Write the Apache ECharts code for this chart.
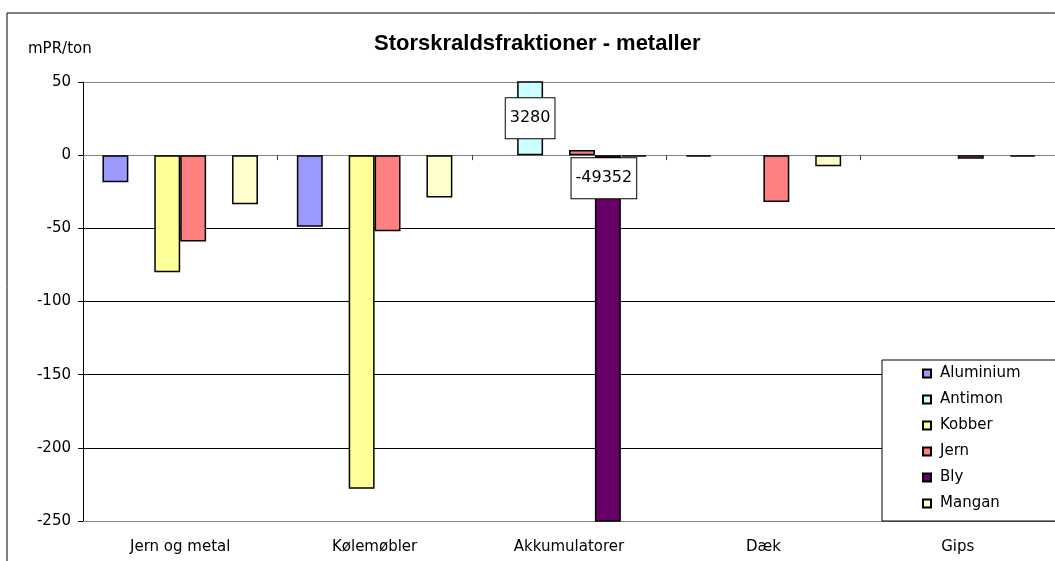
<!DOCTYPE html>
<html>
<head>
    <meta charset="utf-8">
    <title>Storskraldsfraktioner - metaller</title>
    <script src="https://cdn.jsdelivr.net/npm/echarts@6/dist/echarts.min.js"></script>
</head>
<body style="margin:0;">
    <div id="main" style="width: 1055px;height: 561px;"></div>
    <script type="text/javascript">
        // data
        var categories = ['Jern og metal', 'Kølemøbler', 'Akkumulatorer', 'Dæk', 'Gips'];
        var aluminium = [-18.5, -49, '-', -1, '-'];
        var antimon = ['-', '-', 3280, '-', '-'];
        var kobber = [-80, -228, '-', '-', '-'];
        var jern = [-59, -52, 3.5, -32, -2.5];
        var bly = ['-', '-', -49352, '-', '-'];
        var mangan = [-33.5, -29, -1, -7.5, -1];
        var yTicks = [-250, -200, -150, -100, -50, 0, 50];

        var font = 'DejaVu Sans';
        var myChart = echarts.init(document.getElementById('main'));

        function bar(name, data, color, label) {
            return {
                name: name,
                type: 'bar',
                xAxisIndex: 0,
                data: data,
                barGap: '0%',
                barCategoryGap: '20%',
                itemStyle: { color: color, borderColor: '#000', borderWidth: 1.5 },
                label: label || { show: false }
            };
        }

        var boxLabel = {
            show: true,
            fontFamily: font,
            fontSize: 16,
            color: '#000',
            backgroundColor: '#fff',
            borderColor: '#000',
            borderWidth: 1,
            padding: [12, 4]
        };

        var option = {
            animation: false,
            backgroundColor: '#fff',
            title: [
                {
                    text: 'Storskraldsfraktioner - metaller',
                    left: 374,
                    top: 33,
                    padding: 0,
                    textStyle: { fontFamily: 'Liberation Sans', fontWeight: 'bold', fontSize: 22, color: '#000' }
                },
                {
                    text: 'mPR/ton',
                    left: 28,
                    top: 42,
                    padding: 0,
                    textStyle: { fontFamily: font, fontWeight: 'normal', fontSize: 15, color: '#000' }
                }
            ],
            graphic: [{
                type: 'rect',
                z: -1,
                shape: { x: 7, y: 13, width: 1100, height: 600 },
                style: { fill: 'none', stroke: '#000', lineWidth: 1 }
            }],
            legend: {
                orient: 'vertical',
                left: 882,
                top: 360,
                padding: [6, 60, 10, 40],
                itemGap: 11,
                itemWidth: 8,
                itemHeight: 8,
                icon: 'rect',
                backgroundColor: '#fff',
                borderColor: '#000',
                borderWidth: 1,
                textStyle: { fontFamily: font, fontSize: 15, color: '#000', padding: [0, 0, 0, 4] },
                data: ['Aluminium', 'Antimon', 'Kobber', 'Jern', 'Bly', 'Mangan']
            },
            grid: { left: 83, top: 82, width: 975, bottom: 40, containLabel: false },
            xAxis: [
                {
                    type: 'category',
                    data: categories,
                    position: 'bottom',
                    axisLine: { onZero: false, lineStyle: { color: '#808080', width: 1 } },
                    axisTick: { show: false },
                    axisLabel: { fontFamily: font, fontSize: 15, color: '#000', margin: 19 },
                    splitLine: { show: false }
                },
                {
                    type: 'category',
                    data: categories,
                    position: 'bottom',
                    axisLine: { onZero: true, lineStyle: { color: '#808080', width: 1 } },
                    axisTick: { show: true, length: 5, lineStyle: { color: '#404040' } },
                    axisLabel: { show: false },
                    splitLine: { show: false }
                }
            ],
            yAxis: {
                type: 'value',
                min: yTicks[0],
                max: yTicks[yTicks.length - 1],
                interval: 50,
                axisLine: { show: true, lineStyle: { color: '#000' } },
                axisTick: { show: true, length: 5, lineStyle: { color: '#000' } },
                axisLabel: { fontFamily: font, fontSize: 15, color: '#000', margin: 12 },
                splitLine: {
                    show: true,
                    lineStyle: { color: ['#808080', '#000', '#000', '#000', '#000', '#808080', '#808080'], width: 1 }
                }
            },
            series: [
                bar('Aluminium', aluminium, '#9999FF'),
                bar('Antimon', antimon, '#CCFFFF', Object.assign({ position: 'inside' }, boxLabel)),
                bar('Kobber', kobber, '#FFFF99'),
                bar('Jern', jern, '#FF8080'),
                bar('Bly', bly, '#660066', Object.assign({ position: ['50%', 23], align: 'center', verticalAlign: 'middle', offset: [-4, 0] }, boxLabel)),
                bar('Mangan', mangan, '#FFFFCC')
            ]
        };

        myChart.setOption(option);
    </script>
</body>
</html>
